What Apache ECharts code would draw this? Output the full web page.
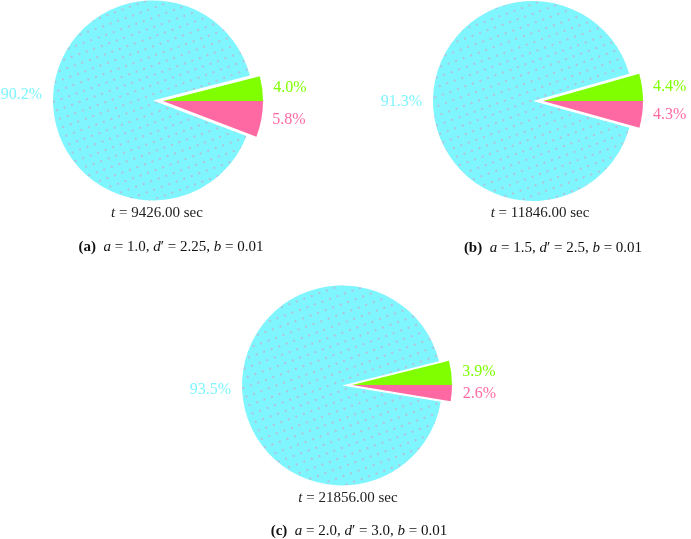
<!DOCTYPE html>
<html>
<head>
<meta charset="utf-8">
<script src="https://cdn.jsdelivr.net/npm/echarts@6/dist/echarts.min.js"></script>
<style>
  html, body { margin: 0; padding: 0; background: #ffffff; }
  #chart { width: 691px; height: 539px; }
</style>
</head>
<body>
<div id="chart"></div>
<script>
// ---- data ----
const sliceNames = ['Green', 'Cyan', 'Pink'];
const valuesA = [4.0, 90.2, 5.8];
const valuesB = [4.4, 91.3, 4.3];
const valuesC = [3.9, 93.5, 2.6];
const times = ['9426.00', '11846.00', '21856.00'];
const panelLetters = ['a', 'b', 'c'];
const paramA = ['1.0', '1.5', '2.0'];
const paramD = ['2.25', '2.5', '3.0'];
const paramB = ['0.01', '0.01', '0.01'];

// ---- style ----
const colors = ['#7fff00', '#7ff5fd', '#ff69a3'];
const serif = 'Liberation Serif';
const panels = [
  { values: valuesA, center: [163, 101], tX: 157, tY: 213, capX: 171, capY: 247 },
  { values: valuesB, center: [543, 101], tX: 540, tY: 213, capX: 553, capY: 248 },
  { values: valuesC, center: [352, 385], tX: 348, tY: 498, capX: 359, capY: 531 }
];

const decal = {
  symbol: 'circle',
  symbolSize: 1,
  color: 'rgba(255,120,170,0.55)',
  dashArrayX: [1.4, 5.4],
  dashArrayY: [1.4, 6.6],
  rotation: -0.35
};

const series = panels.map(function (p) {
  return {
    type: 'pie',
    center: p.center,
    radius: 100,
    startAngle: 0,
    clockwise: false,
    selectedMode: 'multiple',
    selectedOffset: 10,
    avoidLabelOverlap: false,
    silent: true,
    label: {
      show: true,
      position: 'outside',
      fontFamily: serif,
      fontSize: 16,
      distanceToLabelLine: 5,
      formatter: function (q) { return q.value.toFixed(1) + '%'; }
    },
    labelLine: { show: false, length: 6, length2: 0 },
    emphasis: { disabled: true },
    data: sliceNames.map(function (n, i) {
      const item = {
        name: n,
        value: p.values[i],
        itemStyle: { color: colors[i], borderWidth: 0 },
        label: { color: colors[i] }
      };
      if (i === 1) {
        item.selected = true;
        item.itemStyle.decal = decal;
      }
      return item;
    }),
    select: { itemStyle: { color: colors[1], borderWidth: 0 } }
  };
});

const graphics = [];
panels.forEach(function (p, k) {
  graphics.push({
    type: 'text',
    x: p.tX,
    y: p.tY,
    silent: true,
    style: {
      text: '{i|t} = ' + times[k] + ' sec',
      align: 'center',
      verticalAlign: 'middle',
      font: '15px "' + serif + '"',
      fill: '#222222',
      rich: {
        i: { fontStyle: 'italic', fontFamily: serif, fontSize: 15, fill: '#222222' }
      }
    }
  });
  graphics.push({
    type: 'text',
    x: p.capX,
    y: p.capY,
    silent: true,
    style: {
      text: '{b|(' + panelLetters[k] + ')}  {i|a} = ' + paramA[k] + ', {i|d}\u2032 = ' + paramD[k] + ', {i|b} = ' + paramB[k],
      align: 'center',
      verticalAlign: 'middle',
      font: '15px "' + serif + '"',
      fill: '#111111',
      rich: {
        b: { fontWeight: 'bold', fontFamily: serif, fontSize: 15, fill: '#111111' },
        i: { fontStyle: 'italic', fontFamily: serif, fontSize: 15, fill: '#111111' }
      }
    }
  });
});

const chart = echarts.init(document.getElementById('chart'), null, { renderer: 'canvas' });
chart.setOption({
  animation: false,
  backgroundColor: '#ffffff',
  series: series,
  graphic: graphics
});
</script>
</body>
</html>
